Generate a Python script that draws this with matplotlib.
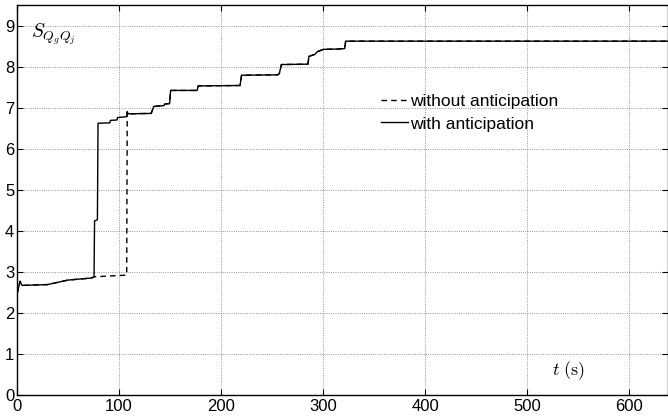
import matplotlib
matplotlib.use('Agg')
import matplotlib.pyplot as plt

# step response (time in s, index value)
t_with = [0, 3, 5, 30, 50, 73, 75.5, 76, 78.8, 79.4, 91, 91.5, 98, 98.5, 107.5, 108,
          109, 131.5, 134, 144, 145, 149.5, 150.5, 176.5, 177.5, 218.5, 220, 255.5,
          257, 259, 285, 286, 292, 294, 300, 316, 321, 322, 640]
s_with = [2.45, 2.77, 2.67, 2.69, 2.8, 2.85, 2.88, 4.24, 4.27, 6.62, 6.63, 6.69, 6.7, 6.76,
          6.78, 6.9, 6.85, 6.86, 7.03, 7.05, 7.09, 7.1, 7.42, 7.42, 7.53, 7.54, 7.79, 7.8,
          7.83, 8.05, 8.06, 8.25, 8.3, 8.36, 8.42, 8.43, 8.44, 8.62, 8.62]

t_without = [0, 3, 5, 30, 50, 73, 75.5, 107.5, 108, 109, 131.5, 134, 144, 145, 149.5,
             150.5, 176.5, 177.5, 218.5, 220, 255.5, 257, 259, 285, 286, 292, 294, 300,
             316, 321, 322, 640]
s_without = [2.45, 2.77, 2.67, 2.69, 2.8, 2.85, 2.88, 2.92, 6.9, 6.85, 6.86, 7.03, 7.05,
             7.09, 7.1, 7.42, 7.42, 7.53, 7.54, 7.79, 7.8, 7.83, 8.05, 8.06, 8.25, 8.3,
             8.36, 8.42, 8.43, 8.44, 8.62, 8.62]

plt.rcParams['font.family'] = ['Liberation Sans', 'DejaVu Sans']
plt.rcParams['mathtext.fontset'] = 'cm'

fig = plt.figure(figsize=(6.68, 4.2), dpi=100)
ax = fig.add_axes([0.0254, 0.0595, 0.975, 0.9285])

ax.plot(t_without, s_without, color='black', lw=1.0, ls=(0, (4, 3)),
        label='without anticipation')
ax.plot(t_with, s_with, color='black', lw=1.0, label='with anticipation')

ax.set_xlim(0, 638)
ax.set_ylim(0, 9.5)
ax.set_xticks(range(0, 601, 100))
ax.set_yticks(range(0, 10))
ax.tick_params(direction='in', top=True, right=True, length=4, labelsize=12)
ax.tick_params(axis='x', pad=3)
ax.tick_params(axis='y', pad=2)
ax.grid(True, ls=':', color='0.45', lw=0.6)
for sp in ax.spines.values():
    sp.set_linewidth(1.0)

ax.text(0.0215, 0.926, r'$S_{Q_gQ_j}$', transform=ax.transAxes, fontsize=14,
        va='center', ha='left')
ax.text(0.822, 0.0615, r'$t\ (\mathrm{s})$', transform=ax.transAxes, fontsize=13,
        va='center', ha='left')

ax.legend(loc='upper left', bbox_to_anchor=(0.559, 0.772), frameon=False,
          fontsize=12.5, handlelength=1.55, handletextpad=0.1, borderpad=0,
          borderaxespad=0, labelspacing=0.42)

fig.savefig('out.png', dpi=100)
